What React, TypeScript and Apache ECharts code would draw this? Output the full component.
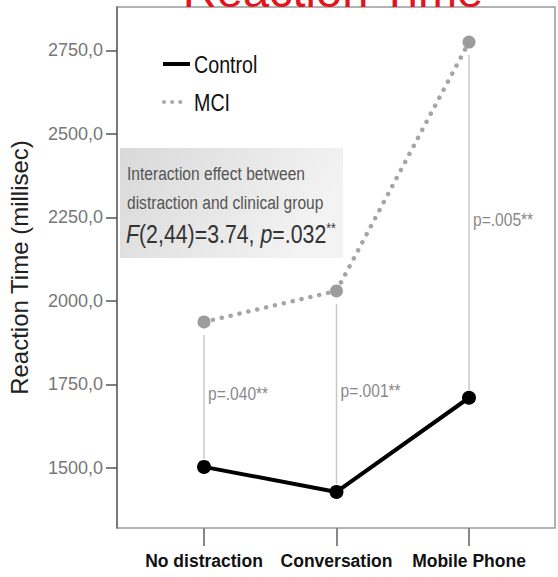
import React, { useEffect, useRef } from "react";
import * as echarts from "echarts";

const categories = ["No distraction", "Conversation", "Mobile Phone"];
const controlValues = [1503, 1428, 1710];
const mciValues = [1937, 2030, 2775];
const pLabels = ["p=.040**", "p=.001**", "p=.005**"];
const yTickValues = [1500, 1750, 2000, 2250, 2500, 2750];
const seriesNames = ["Control", "MCI"];
const titleText = "Reaction Time";
const yAxisName = "Reaction Time (millisec)";
const noteLines = ["Interaction effect between", "distraction and clinical group"];

const SANS = "'Liberation Sans', Arial, sans-serif";
const NX = 0.82; // horizontal squeeze to mimic a narrow face

export default function App() {
  const ref = useRef<HTMLDivElement>(null);
  useEffect(() => {
    if (!ref.current) return;
    const chart = echarts.init(ref.current, undefined, { renderer: "svg" });
    const idx = categories.map((_, i) => i);
    const yMin = 1320;
    const yMax = 2880;
    const option: any = {
      animation: false,
      backgroundColor: "#ffffff",
      grid: [
        {
          left: 117,
          top: 7,
          right: 3,
          bottom: 49,
          show: true,
          borderColor: "#9a9a9a",
          borderWidth: 1.5,
          backgroundColor: "transparent",
          containLabel: false,
          outerBoundsMode: "none",
        },
        {
          left: 137.75,
          top: 7,
          width: 397.5,
          bottom: 49,
          show: false,
          containLabel: false,
          outerBoundsMode: "none",
        },
      ],
      xAxis: [
        {
          gridIndex: 0,
          type: "value",
          min: 0,
          max: 1,
          show: false,
        },
        {
          gridIndex: 1,
          type: "category",
          data: categories,
          boundaryGap: true,
          axisLine: { show: false },
          axisTick: {
            show: true,
            alignWithLabel: true,
            length: 18,
            lineStyle: { color: "#888", width: 2 },
          },
          axisLabel: {
            interval: 0,
            margin: 24,
            fontFamily: SANS,
            fontWeight: "bold",
            fontSize: 17.5,
            color: "#111",
          },
          splitLine: { show: false },
        },
      ],
      yAxis: [
        {
          gridIndex: 0,
          type: "value",
          min: yMin,
          max: yMax,
          splitLine: { show: false },
          name: yAxisName,
          nameLocation: "middle",
          nameGap: 86,
          nameTextStyle: { fontFamily: SANS, fontSize: 24, color: "#222" },
          axisLine: { show: true, onZero: false, lineStyle: { color: "#666", width: 1.5 } },
          axisTick: {
            show: true,
            customValues: yTickValues,
            length: 11,
            lineStyle: { color: "#555", width: 1.5 },
          },
          axisLabel: {
            customValues: yTickValues,
            formatter: (v: number) => v.toFixed(1).replace(".", ","),
            margin: 14,
            fontFamily: SANS,
            fontSize: 18,
            color: "#777",
          },
        },
        {
          gridIndex: 1,
          type: "value",
          min: yMin,
          max: yMax,
          show: false,
          splitLine: { show: false },
        },
      ],
      graphic: [
        {
          type: "text",
          x: 333,
          y: -10,
          z: 10,
          style: {
            text: titleText,
            fill: "#e3141c",
            font: `47px ${SANS}`,
            align: "center",
            verticalAlign: "middle",
          },
        },
        {
          type: "rect",
          shape: { x: 120, y: 148, width: 223, height: 110 },
          z: 1,
          style: {
            fill: new echarts.graphic.LinearGradient(0, 0, 1, 0.3, [
              { offset: 0, color: "#d9d9d9" },
              { offset: 1, color: "#f3f3f3" },
            ]),
          },
        },
        {
          type: "text",
          x: 127,
          y: 173,
          z: 2,
          scaleX: NX,
          style: {
            text: noteLines[0],
            fill: "#555",
            font: `19px ${SANS}`,
            verticalAlign: "middle",
          },
        },
        {
          type: "text",
          x: 127,
          y: 202,
          z: 2,
          scaleX: NX,
          style: {
            text: noteLines[1],
            fill: "#555",
            font: `19px ${SANS}`,
            verticalAlign: "middle",
          },
        },
        {
          type: "text",
          x: 126,
          y: 234,
          z: 2,
          scaleX: NX,
          style: {
            text: "{i|F}{n|(2,44)=3.74, }{i|p}{n|=.032}{s|**}",
            verticalAlign: "middle",
            rich: {
              i: { fontFamily: SANS, fontSize: 26, fontStyle: "italic", fill: "#333" },
              n: { fontFamily: SANS, fontSize: 26, fill: "#333" },
              s: { fontFamily: SANS, fontSize: 15, fill: "#333", verticalAlign: "top", padding: [0, 0, 10, 0] },
            },
          },
        },
        {
          type: "line",
          shape: { x1: 163, y1: 64, x2: 190, y2: 64 },
          style: { stroke: "#000", lineWidth: 4 },
        },
        {
          type: "text",
          x: 194,
          y: 65,
          scaleX: NX,
          style: { text: seriesNames[0], fill: "#111", font: `24px ${SANS}`, verticalAlign: "middle" },
        },
        {
          type: "line",
          shape: { x1: 164, y1: 102, x2: 188, y2: 102 },
          style: { stroke: "#aaa", lineWidth: 4, lineDash: [0.1, 8], lineCap: "round" },
        },
        {
          type: "text",
          x: 194,
          y: 103,
          scaleX: NX,
          style: { text: seriesNames[1], fill: "#111", font: `24px ${SANS}`, verticalAlign: "middle" },
        },
      ],
      series: [
        {
          type: "custom",
          xAxisIndex: 1,
          yAxisIndex: 1,
          z: 1,
          data: idx.map((i) => [i, mciValues[i], controlValues[i]]),
          renderItem: (params: any, api: any) => {
            const x = api.value(0);
            const top = api.coord([x, api.value(1)]);
            const bottom = api.coord([x, api.value(2)]);
            const y1 = top[1] + 13;
            const y2 = bottom[1] - 8;
            const label = pLabels[params.dataIndex];
            return {
              type: "group",
              children: [
                {
                  type: "line",
                  shape: { x1: top[0], y1, x2: top[0], y2 },
                  style: { stroke: "#c8c8c8", lineWidth: 1.5 },
                },
                {
                  type: "text",
                  x: top[0] + 4,
                  y: (y1 + y2) / 2 - 3,
                  scaleX: NX,
                  style: {
                    text: label,
                    fill: "#888",
                    font: `19px ${SANS}`,
                    verticalAlign: "middle",
                  },
                },
              ],
            };
          },
        },
        {
          name: seriesNames[1],
          type: "line",
          xAxisIndex: 1,
          yAxisIndex: 1,
          z: 3,
          data: mciValues,
          symbol: "circle",
          symbolSize: 13,
          itemStyle: { color: "#9c9c9c" },
          lineStyle: { color: "#a5a5a5", width: 4.5, type: [0.1, 9], cap: "round" },
        },
        {
          name: seriesNames[0],
          type: "line",
          xAxisIndex: 1,
          yAxisIndex: 1,
          z: 4,
          data: controlValues,
          symbol: "circle",
          symbolSize: 14,
          itemStyle: { color: "#000" },
          lineStyle: { color: "#000", width: 4 },
        },
      ],
    };
    chart.setOption(option);
    return () => chart.dispose();
  }, []);
  return (
    <div
      ref={ref}
      style={{ position: "fixed", left: 0, top: 0, width: 558, height: 577, background: "#fff" }}
    />
  );
}
